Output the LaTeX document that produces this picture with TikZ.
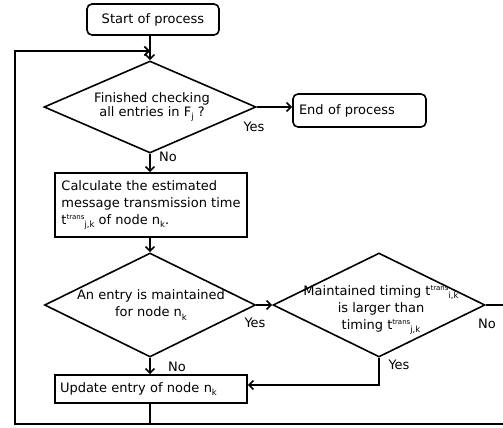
\documentclass[tikz,border=0pt]{standalone}
\usepackage{fontspec}
\setmainfont{DejaVu Sans}
\usetikzlibrary{shapes.geometric,arrows.meta}
\newcommand{\sbs}[1]{\raisebox{-0.45ex}{\fontsize{8.5}{8.5}\selectfont #1}}
\newcommand{\tsup}[1]{\raisebox{0.75ex}{\fontsize{7}{7}\selectfont #1}}
\begin{document}
\begin{tikzpicture}[x=1pt,y=-1pt,
  every node/.style={font=\fontsize{13}{17}\selectfont},
  line/.style={line width=1.6pt},
  arr/.style={line width=1.6pt,-{Straight Barb[length=4.5pt,width=9pt,line width=1.6pt]}},
  termbox/.style={draw,line width=1.6pt,rounded corners=5pt,inner sep=0pt,anchor=center},
  procbox/.style={draw,line width=1.6pt,inner sep=0pt},
  decbox/.style={draw,line width=1.6pt,diamond,inner sep=0pt},
  lbl/.style={inner sep=1pt}]
\useasboundingbox (0,0) rectangle (503,428);
% nodes
\node[termbox,minimum width=132pt,minimum height=31pt] (start) at (153,19.5) {Start of process};
\node[decbox,minimum width=212pt,minimum height=92pt] (d1) at (150,107) {};
\node[align=center] (d1t) at (152,107) {Finished checking\\[-3pt]all entries in F\sbs{j} ?};
\node[termbox,minimum width=133pt,minimum height=33pt,text width=121pt,align=left] (end) at (359.5,110.5) {End of process};
\node[procbox,minimum width=192pt,minimum height=64pt,align=left] (calc) at (151,205) {Calculate the estimated\\message transmission time\\t\tsup{trans}\sbs{j,k} of node n\sbs{k}.};
\node[decbox,minimum width=211pt,minimum height=104pt] (d2) at (150,305) {};
\node[align=center] (d2t) at (151,305) {An entry is maintained\\for node n\sbs{k}};
\node[decbox,minimum width=212pt,minimum height=104pt] (d3) at (379,305) {};
\node[align=center] (d3t) at (381,310) {Maintained timing t\tsup{trans}\sbs{i,k}\\is larger than\\timing t\tsup{trans}\sbs{j,k}};
\node[procbox,minimum width=192pt,minimum height=28pt,text width=182pt,align=left] (upd) at (151,389) {Update entry of node n\sbs{k}};
% coordinates
\coordinate (bl) at (15,424);
\coordinate (br) at (503,424);
\coordinate (tl) at (15,51);
\coordinate (rr) at (503,305);
% connectors
\draw[arr] (start.south -| d1.north) -- (d1.north);
\draw[arr] (d1.east) -- (d1.east -| end.west);
\draw[arr] (d1.south) -- (d1.south |- calc.north);
\draw[arr] (d1.south |- calc.south) -- (d2.north);
\draw[arr] (d2.east) -- (d3.west);
\draw[arr] (d2.south) -- (d2.south |- upd.north);
\draw[arr] (d3.south) |- ([yshift=4pt]upd.east);
\draw[line] (d3.east) -- (rr);
\draw[line] (d2.south |- upd.south) -- (d2.south |- bl);
\draw[arr] (br) -- (bl) -- (tl) -- (tl -| d1.north);
% labels
\node[lbl] (y1) at (254,127) {Yes};
\node[lbl] (n1) at (168,157) {No};
\node[lbl] (y2) at (255,323) {Yes};
\node[lbl] (n2) at (177,367) {No};
\node[lbl] (y3) at (399,365) {Yes};
\node[lbl] (n3) at (487,324) {No};
\end{tikzpicture}
\end{document}
